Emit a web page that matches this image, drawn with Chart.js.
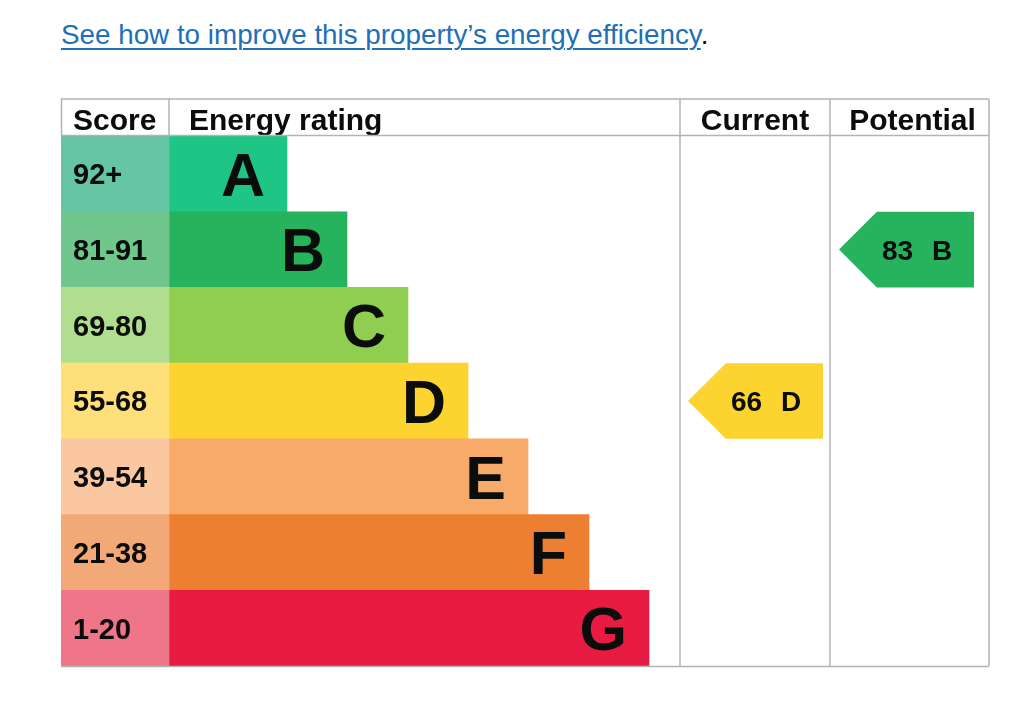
<!DOCTYPE html>
<html>
<head>
<meta charset="utf-8">
<script src="https://cdn.jsdelivr.net/npm/chart.js@4/dist/chart.umd.min.js"></script>
<style>
  html, body { margin: 0; padding: 0; background: #fff; }
  #wrap { position: relative; width: 1024px; height: 708px; }
  #intro {
    position: absolute; left: 61px; top: 21px; margin: 0;
    font-family: "Liberation Sans", Arial, sans-serif; font-size: 27.8px; line-height: 1;
    color: #0b0c0c; white-space: nowrap;
  }
  #intro a {
    color: #1d70b8; text-decoration: underline;
    text-decoration-thickness: 1.5px; text-underline-offset: 4px;
  }
  canvas { position: absolute; left: 0; top: 0; }
</style>
</head>
<body>
<div id="wrap">
  <p id="intro"><a href="#">See how to improve this property’s energy efficiency</a>.</p>
  <canvas id="epc" width="1024" height="708"></canvas>
</div>
<script>
  // rating bands, top to bottom
  const ratings = ["A", "B", "C", "D", "E", "F", "G"]
  const scoreBands = ["92+", "81-91", "69-80", "55-68", "39-54", "21-38", "1-20"]
  const barLengths = [118, 178, 239, 299, 359, 420, 480] // relative bar length per band
  const bandColors = ["#1fc585", "#27b35d", "#8fce50", "#fdd42f", "#f8aa68", "#ed7f33", "#e81c42"]
  const scoreColors = ["#66c5a4", "#70c78d", "#b1de8e", "#fee07a", "#fbc7a0", "#f3a877", "#ef7589"]

  const currentScore = 66
  const currentRating = "D"
  const potentialScore = 83
  const potentialRating = "B"

  // table layout along the x scale (0 = left edge of the table)
  const SCORE_W = 108
  const TABLE_W = 928
  const COL_CURRENT = 619
  const COL_POTENTIAL = 769
  const currentSpan = [627, 762]
  const potentialSpan = [778, 913]

  const FONT = '"Liberation Sans", Arial, sans-serif'
  const LINE = "#b1b4b6"

  function arrowData(rating, span) {
    return ratings.map((r) => (r === rating ? span : null))
  }

  const epcPlugin = {
    id: "epc",
    afterDatasetsDraw(chart) {
      const ctx = chart.ctx
      const area = chart.chartArea
      const xs = chart.scales.x
      const ys = chart.scales.y
      const top = 99
      const xEnergy = xs.getPixelForValue(SCORE_W)
      const xCur = xs.getPixelForValue(COL_CURRENT)
      const xPot = xs.getPixelForValue(COL_POTENTIAL)

      ctx.save()

      // arrows for current / potential
      ;[2, 3].forEach((di) => {
        const ds = chart.data.datasets[di]
        chart.getDatasetMeta(di).data.forEach((bar, i) => {
          if (ds.data[i] == null) return
          const p = bar.getProps(["x", "y", "base", "height"], true)
          const h = p.height
          const y0 = p.y - h / 2
          const y1 = p.y + h / 2
          ctx.fillStyle = ds.arrowColor
          ctx.beginPath()
          ctx.moveTo(p.base, p.y)
          ctx.lineTo(p.base + h / 2, y0)
          ctx.lineTo(p.x, y0)
          ctx.lineTo(p.x, y1)
          ctx.lineTo(p.base + h / 2, y1)
          ctx.closePath()
          ctx.fill()

          const fs = 28
          ctx.fillStyle = "#0b0c0c"
          ctx.font = "bold " + fs + "px " + FONT
          ctx.textAlign = "left"
          ctx.textBaseline = "alphabetic"
          const base = p.y + fs * 0.716 / 2
          ctx.fillText(String(ds.score), p.base + 43, base)
          ctx.fillText(ds.rating, p.base + 93, base)
        })
      })

      // score labels and band letters
      const scoreMeta = chart.getDatasetMeta(0).data
      const bandMeta = chart.getDatasetMeta(1).data
      ratings.forEach((r, i) => {
        const cy = ys.getPixelForValue(i)
        ctx.fillStyle = "#0b0c0c"
        ctx.textBaseline = "alphabetic"
        ctx.textAlign = "left"
        ctx.font = "bold 29px " + FONT
        ctx.fillText(scoreBands[i], scoreMeta[i].base + 12, cy + 29 * 0.716 / 2)

        ctx.textAlign = "right"
        ctx.font = "bold 61px " + FONT
        ctx.fillText(r, bandMeta[i].x - 22, cy + 61 * 0.716 / 2)
      })

      // header
      const hb = 130
      ctx.font = "bold 30px " + FONT
      ctx.textAlign = "left"
      ctx.fillText("Score", area.left + 12, hb)
      ctx.fillText("Energy rating", xEnergy + 20, hb)
      ctx.textAlign = "center"
      ctx.fillText("Current", (xCur + xPot) / 2, hb)
      ctx.fillText("Potential", (xPot + area.right) / 2 + 3, hb)

      // table lines
      ctx.strokeStyle = LINE
      ctx.lineWidth = 1.5
      ctx.beginPath()
      ctx.moveTo(area.left, top); ctx.lineTo(area.right, top)
      ctx.moveTo(area.left, area.top - 0.5); ctx.lineTo(area.right, area.top - 0.5)
      ctx.moveTo(area.left, area.bottom + 0.5); ctx.lineTo(area.right, area.bottom + 0.5)
      ctx.moveTo(area.left + 0.5, top); ctx.lineTo(area.left + 0.5, area.top)
      ctx.moveTo(xEnergy, top); ctx.lineTo(xEnergy, area.top)
      ctx.moveTo(xCur, top); ctx.lineTo(xCur, area.bottom)
      ctx.moveTo(xPot, top); ctx.lineTo(xPot, area.bottom)
      ctx.moveTo(area.right, top); ctx.lineTo(area.right, area.bottom)
      ctx.stroke()

      ctx.restore()
    },
  }

  const barDefaults = {
    barPercentage: 1,
    categoryPercentage: 1,
    grouped: false,
    borderWidth: 0,
  }

  new Chart(document.getElementById("epc"), {
    type: "bar",
    data: {
      labels: ratings,
      datasets: [
        {
          label: "Score",
          data: scoreBands.map(() => [0, SCORE_W]),
          backgroundColor: scoreColors,
          ...barDefaults,
        },
        {
          label: "Energy rating",
          data: barLengths.map((len) => [SCORE_W, SCORE_W + len]),
          backgroundColor: bandColors,
          ...barDefaults,
        },
        {
          label: "Current",
          data: arrowData(currentRating, currentSpan),
          backgroundColor: "rgba(0,0,0,0)",
          arrowColor: bandColors[ratings.indexOf(currentRating)],
          score: currentScore,
          rating: currentRating,
          ...barDefaults,
        },
        {
          label: "Potential",
          data: arrowData(potentialRating, potentialSpan),
          backgroundColor: "rgba(0,0,0,0)",
          arrowColor: bandColors[ratings.indexOf(potentialRating)],
          score: potentialScore,
          rating: potentialRating,
          ...barDefaults,
        },
      ],
    },
    options: {
      indexAxis: "y",
      responsive: false,
      animation: false,
      layout: { padding: { left: 61, right: 35, top: 136, bottom: 42 } },
      plugins: { legend: { display: false }, tooltip: { enabled: false } },
      scales: {
        x: { type: "linear", min: 0, max: TABLE_W, display: false },
        y: { display: false },
      },
    },
    plugins: [epcPlugin],
  })
</script>
</body>
</html>
